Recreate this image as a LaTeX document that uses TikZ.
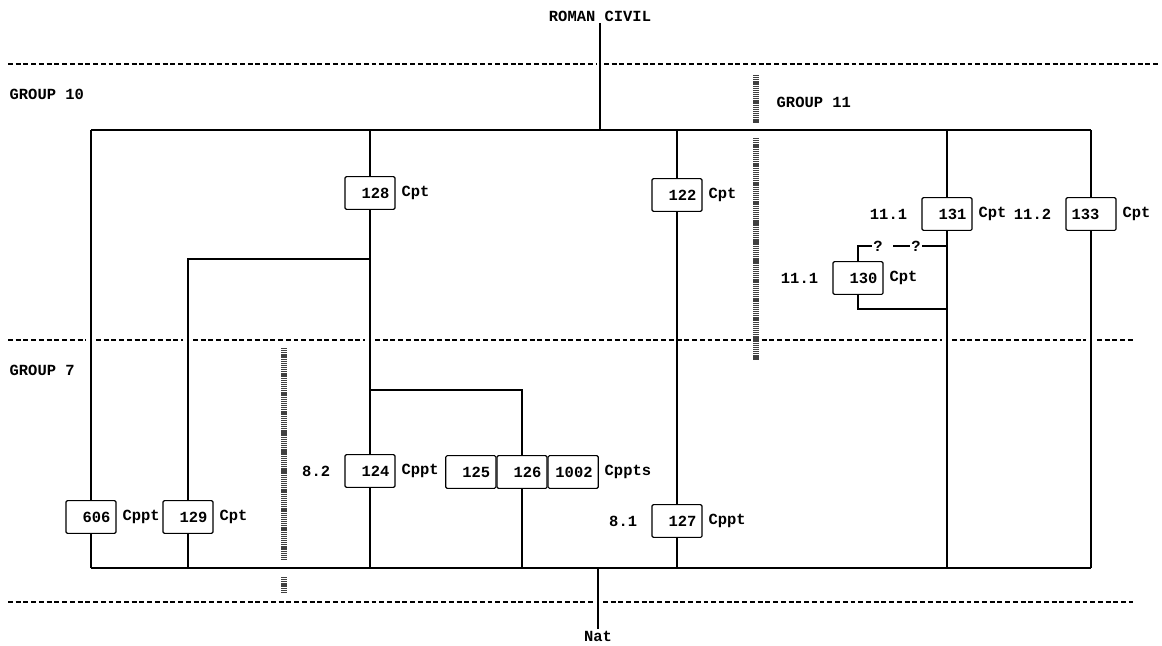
\documentclass[tikz,border=0pt]{standalone}
\usepackage{fontspec}
\setmonofont{Liberation Mono}
\usetikzlibrary{positioning}

\tikzset{
  unit/.style={draw, line width=0.8pt, rounded corners=1pt, fill=white,
    minimum height=0.82cm, text width=0.97cm, inner xsep=4pt, align=right},
  zone/.style={dashed, dash pattern=on 3.5pt off 2pt, line width=0.8pt},
  wire/.style={line width=0.9pt},
  tally/.style={line width=4.5pt, dash pattern=on 0.9pt off 0.6pt, black!75},
}

\begin{document}
\begin{tikzpicture}[x=0.025cm, y=-0.025cm, inner sep=1pt,
  font=\fontsize{11}{13}\selectfont\ttfamily\bfseries]
\useasboundingbox (0,0) rectangle (1162,645);

% zones
\draw[zone] (8,64) -- (597,64);
\draw[zone] (604,64) -- (1160,64);
\foreach \a/\b in {8/86, 96/183, 193/365, 375/942, 952/1086, 1097/1133}
  \draw[zone] (\a,340) -- (\b,340);
\draw[zone] (8,602) -- (595,602);
\draw[zone] (603,602) -- (1133,602);

\node[anchor=west] (g10) at (8,94) {GROUP 10};
\node[anchor=west] (g11) at (775,102) {GROUP 11};
\node[anchor=west] (g7) at (8,370) {GROUP 7};

\node (rc) at (600,16) {ROMAN CIVIL};
\node (nat) at (598,636) {Nat};

\coordinate (tl) at (91,130);
\coordinate (tr) at (1091,130);
\coordinate (bl) at (91,568);
\coordinate (br) at (1091,568);

% units
\node[unit] (n606) at (91,517) {606};
\node[unit] (n129) at (188,517) {129};
\node[unit] (n128) at (370,193) {128};
\node[unit] (n124) at (370,471) {124};
\node[unit] (n126) at (522,472) {126};
\node[unit, left=0pt of n126] (n125) {125};
\node[unit, right=0pt of n126] (n1002) {1002};
\node[unit] (n122) at (677,195) {122};
\node[unit] (n127) at (677,521) {127};
\node[unit] (n131) at (947,214) {131};
\node[unit] (n130) at (858,278) {130};
\node[unit, align=left] (n133) at (1091,214) {133};

\node[right=3pt of n606] {Cppt};
\node[right=3pt of n129] {Cpt};
\node[right=3pt of n128] {Cpt};
\node[right=3pt of n124] {Cppt};
\node[right=3pt of n1002] {Cppts};
\node[right=3pt of n122] {Cpt};
\node[right=3pt of n127] {Cppt};
\node[right=3pt of n131] {Cpt};
\node[right=3pt of n130] {Cpt};
\node[right=3pt of n133] {Cpt};
\node[left=9pt of n124] {8.2};
\node[left=9pt of n127] {8.1};
\node[left=9pt of n131] {11.1};
\node[left=9pt of n130] {11.1};
\node[left=9pt of n133] {11.2};

% lines
\draw[wire] (rc) -- (rc |- tl);
\draw[wire] (nat) -- (nat |- bl);
\draw[wire] (tl) -- (tr);
\draw[wire] (bl) -- (br);
\draw[wire] (tl) -- (n606) -- (bl);
\draw[wire] (tr) -- (n133) -- (br);
\draw[wire] (n128 |- tl) -- (n128) -- (n124) -- (n124 |- bl);
\coordinate (j1) at (370,259);
\coordinate (j2) at (370,390);
\draw[wire] (j1) -| (n129);
\draw[wire] (n129) -- (n129 |- bl);
\draw[wire] (j2) -| (n126);
\draw[wire] (n126) -- (n126 |- bl);
\draw[wire] (n122 |- tl) -- (n122) -- (n127) -- (n127 |- bl);
\draw[wire] (n131 |- tl) -- (n131) -- (n131 |- bl);

\node (qa) at (878,246) {?};
\node (qb) at (916,246) {?};
\coordinate (qc) at (893,246);
\coordinate (j4) at (947,309);
\draw[wire] (n130) |- (qa);
\draw[wire] (qc) -- (qb);
\draw[wire] (qb) -- (qb -| n131);
\draw[wire] (n130) |- (j4);

% tally bars
\draw[tally] (284,348) -- (284,560);
\draw[tally] (284,577) -- (284,592);
\draw[tally] (756,75) -- (756,123);
\draw[tally] (756,138) -- (756,360);
\end{tikzpicture}
\end{document}
